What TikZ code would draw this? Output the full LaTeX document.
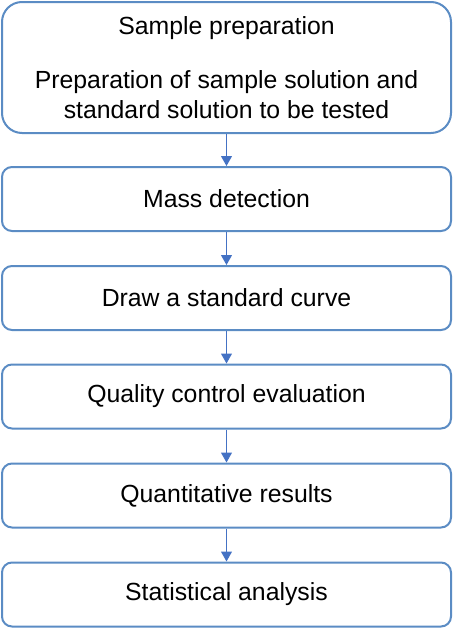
\documentclass[tikz,border=0pt]{standalone}
\usepackage{fontspec}
\setmainfont{Liberation Sans}
\usetikzlibrary{positioning}
\definecolor{boxblue}{HTML}{5B8CC4}
\definecolor{arrowblue}{HTML}{4472C4}
\tikzstyle{stepbox}=[draw=boxblue, line width=2pt, fill=white, rounded corners=10pt,
  minimum width=449pt, minimum height=64pt, inner sep=0, align=center,
  font=\fontsize{24.8}{30}\selectfont]
\tikzstyle{flow}=[draw=arrowblue, line width=1pt, -{Triangle[length=10pt,width=11pt]}]
\usetikzlibrary{arrows.meta}

\begin{document}
\begin{tikzpicture}[x=1pt,y=-1pt]
\useasboundingbox (0,0) rectangle (453,629);
\node[stepbox, rounded corners=20pt, minimum height=131pt] (prep) at (226.5,67.5)
  {Sample preparation\\[24pt]Preparation of sample solution and\\standard solution to be tested};
\node[stepbox] (mass) at (226.5,199) {Mass detection};
\node[stepbox] (curve) at (226.5,298) {Draw a standard curve};
\node[stepbox] (qc) at (226.5,396.5) {Quality control evaluation};
\node[stepbox] (quant) at (226.5,495.5) {Quantitative results};
\node[stepbox] (stat) at (226.5,594.5) {Statistical analysis};
\draw[flow] (prep) -- (mass);
\draw[flow] (mass) -- (curve);
\draw[flow] (curve) -- (qc);
\draw[flow] (qc) -- (quant);
\draw[flow] (quant) -- (stat);
\end{tikzpicture}
\end{document}
